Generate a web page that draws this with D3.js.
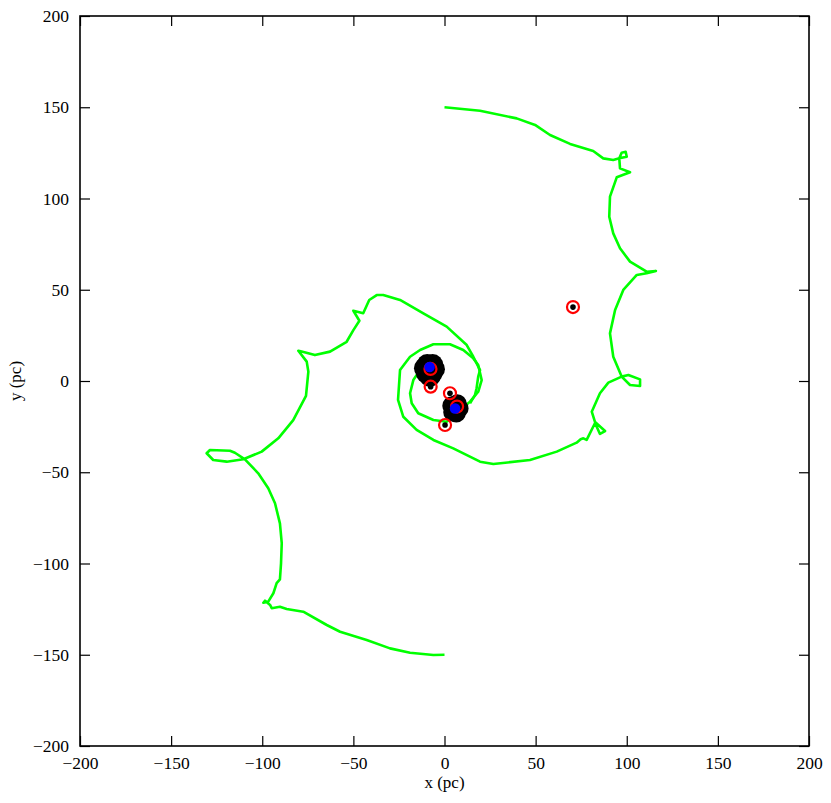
<!DOCTYPE html>
<html><head><meta charset="utf-8">
<script src="https://cdn.jsdelivr.net/npm/d3@7"></script>
<style>body{margin:0;background:#fff}</style>
</head><body>
<svg id="c" width="831" height="803"></svg>
<script>
const xTicks = [-200,-150,-100,-50,0,50,100,150,200];
const yTicks = [-200,-150,-100,-50,0,50,100,150,200];

const armA = [[0,150],[19.5,148.1],[39.6,143.9],[49.7,140.3],[57.9,134.8],[68.9,129.9],[81.6,126.0],[87.1,122.0],[92.6,121.1],[95.9,122.0],[97.2,125.1],[99.4,125.6],[100.0,122.9],[95.9,122.0],[96.3,116.5],[101.8,114.4],[94.5,111.6],[90.8,101.0],[90.4,90.0],[92.6,80.9],[96.3,72.7],[101.8,65.4],[110.9,59.9],[116.0,60.3],[110.9,59.0],[105.5,58.1],[98.1,49.9],[93.6,38.9],[90.8,26.1],[92.6,13.3],[97.2,2.4],[100.9,3.3],[107.3,0.9],[107.3,-2.7],[101.8,-2.2],[97.2,2.4],[89.9,-0.9],[85.3,-6.7],[80.8,-16.8],[82.6,-22.5],[88.1,-27.4],[85.3,-29.0],[82.6,-23.0],[78.0,-32.3],[76.2,-31.4],[74.7,-31.9],[72.5,-33.8],[61.6,-38.7],[46.9,-43.3],[26.8,-45.5],[19.5,-44.2],[4.8,-36.9],[-6.1,-32.3],[-15.3,-26.8],[-22.6,-19.6],[-25.5,-10.4],[-24.4,6.0],[-18.9,13.3],[-13.4,17.0],[-6.1,20.1],[3.0,20.1],[10.3,17.0],[15.8,12.4],[18.5,8.8],[20.4,0.5],[18.5,-5.9],[14.0,-11.3],[6.7,-17.7],[1.2,-22.3],[-6.1,-21.4],[-14.4,-17.7],[-18.0,-12.2],[-18.9,-6.7],[-17.1,0.5],[-11.6,8.8]];

const armB = [[0,-150],[-6.1,-150.1],[-18.9,-148.9],[-29.9,-146.5],[-42.7,-141.9],[-57.3,-137.4],[-64.6,-133.7],[-77.5,-126.4],[-86.6,-124.9],[-90.3,-123.7],[-94.8,-124.5],[-95.7,-122.7],[-98.5,-120.4],[-99.4,-121.5],[-96.7,-120.9],[-93.9,-116.3],[-92.1,-110.8],[-90.3,-108.7],[-89.7,-99.9],[-89.3,-88.9],[-90.3,-78.0],[-93.0,-67.0],[-96.7,-58.8],[-102.2,-50.6],[-109.5,-42.9],[-115.0,-39.3],[-117.7,-38.2],[-128.7,-37.8],[-130.5,-39.6],[-126.9,-43.3],[-119.5,-44.2],[-110.4,-42.9],[-100.3,-38.7],[-91.2,-31.4],[-83.0,-21.4],[-76.0,-8.2],[-74.7,5.1],[-75.6,10.6],[-80.2,16.6],[-78.4,16.1],[-71.1,14.2],[-62.8,16.1],[-53.7,21.5],[-50.0,27.9],[-46.7,33.0],[-50.0,38.5],[-44.6,37.1],[-41.3,44.4],[-37.2,47.1],[-33.6,47.1],[-24.4,44.4],[-11.6,37.1],[1.2,29.8],[12.2,19.7],[15.8,13.3],[19.5,6.0],[18.5,2.4],[17.6,-4.0],[16.7,-7.7],[14.0,-12.3]];

const blob1 = [[-8.5,7],[-10,4.5],[-7,4],[-9.5,9],[-6.5,9],[-11,7],[-8,2.5],[-5.5,6.5]];
const blob2 = [[5.5,-14],[7,-12.5],[4.5,-17],[6.5,-17.5],[8,-15],[5.5,-15.5],[4,-13.5]];
const blueX = [-8.2, 5.8];
const blueY = [7.7, -15.1];
const ringX = [-7.7, 6.9, 70.5, -7.6, 3.0, 0.3];
const ringY = [6.6, -14.0, 40.5, -3.1, -6.7, -24.1];
const dotX = [70.5, -7.6, 3.0, 0.3];
const dotY = [40.5, -3.1, -6.7, -24.1];

const svg = d3.select('#c');
const L=80,R=809,T=16,B=746;
const x = d3.scaleLinear().domain([-200,200]).range([L,R]);
const y = d3.scaleLinear().domain([-200,200]).range([B,T]);
const font = "'Liberation Serif', 'DejaVu Serif', serif";
const fmt = d => d<0 ? '\u2212'+Math.abs(d) : ''+d;

svg.append('clipPath').attr('id','cp').append('rect').attr('x',L).attr('y',T).attr('width',R-L).attr('height',B-T);
const g = svg.append('g').attr('clip-path','url(#cp)');

const line = d3.line().x(d=>x(d[0])).y(d=>y(d[1]));
[armA, armB].forEach(a => g.append('path').attr('d', line(a)).attr('fill','none').attr('stroke','#00ff00').attr('stroke-width',2.6).attr('stroke-linejoin','round'));

g.selectAll('.blob').data(blob1).join('circle').attr('cx',d=>x(d[0])).attr('cy',d=>y(d[1])).attr('r',10.5).attr('fill','#000');
g.append('g').selectAll('circle').data(blob2).join('circle').attr('cx',d=>x(d[0])).attr('cy',d=>y(d[1])).attr('r',9.5).attr('fill','#000');
g.append('g').selectAll('circle').data(ringX.map((v,i)=>[v,ringY[i]])).join('circle').attr('cx',d=>x(d[0])).attr('cy',d=>y(d[1])).attr('r',6).attr('fill','none').attr('stroke','#ff0000').attr('stroke-width',2.2);
g.append('g').selectAll('circle').data(dotX.map((v,i)=>[v,dotY[i]])).join('circle').attr('cx',d=>x(d[0])).attr('cy',d=>y(d[1])).attr('r',2.8).attr('fill','#000');
g.append('g').selectAll('circle').data(blueX.map((v,i)=>[v,blueY[i]])).join('circle').attr('cx',d=>x(d[0])).attr('cy',d=>y(d[1])).attr('r',5.3).attr('fill','#0000ff');

const tl = 10;
const ax = svg.append('g');
const xb = ax.append('g').attr('transform',`translate(0,${B})`).call(d3.axisBottom(x).tickValues(xTicks).tickFormat(fmt).tickSizeInner(-tl).tickSizeOuter(0).tickPadding(6));
ax.append('g').attr('transform',`translate(0,${T})`).call(d3.axisTop(x).tickValues(xTicks).tickFormat('').tickSizeInner(-tl).tickSizeOuter(0));
ax.append('g').attr('transform',`translate(${L},0)`).call(d3.axisLeft(y).tickValues(yTicks).tickFormat(fmt).tickSizeInner(-tl).tickSizeOuter(0).tickPadding(11));
ax.append('g').attr('transform',`translate(${R},0)`).call(d3.axisRight(y).tickValues(yTicks).tickFormat('').tickSizeInner(-tl).tickSizeOuter(0));
ax.selectAll('.domain').remove();
ax.selectAll('.tick line').attr('stroke','#000').attr('stroke-width',1.2);
ax.selectAll('.tick text').attr('font-family',font).attr('font-size',17.5).attr('fill','#000');
xb.selectAll('.tick text').attr('dy','0.95em');
svg.append('rect').attr('x',L).attr('y',T).attr('width',R-L).attr('height',B-T).attr('fill','none').attr('stroke','#000').attr('stroke-width',1.6);

svg.append('text').attr('x',(L+R)/2).attr('y',788).attr('text-anchor','middle').attr('font-family',font).attr('font-size',17).text('x (pc)');
svg.append('text').attr('transform',`translate(21,${(T+B)/2}) rotate(-90)`).attr('text-anchor','middle').attr('font-family',font).attr('font-size',17).text('y (pc)');
</script>
</body></html>
